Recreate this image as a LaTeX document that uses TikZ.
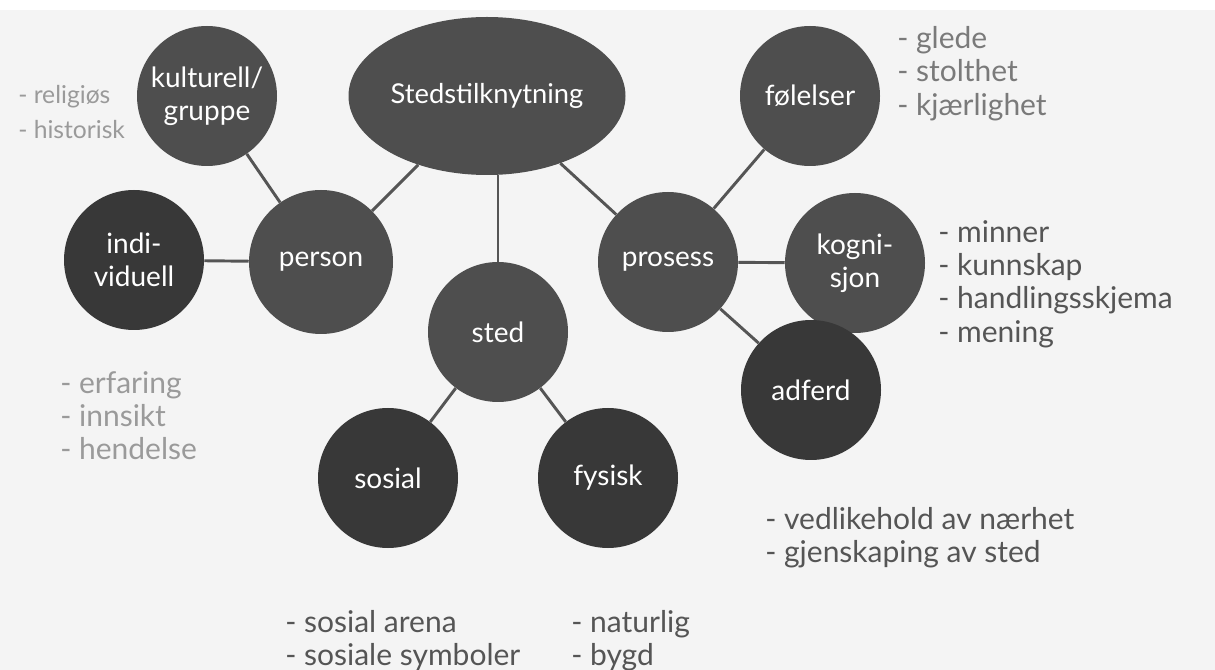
\documentclass[tikz,border=0pt]{standalone}
\usepackage{fontspec}
\setmainfont{Lato}
\usetikzlibrary{shapes.geometric}
\definecolor{bg}{HTML}{F4F4F4}
\definecolor{ball}{HTML}{4E4E4E}
\definecolor{dball}{HTML}{383838}
\definecolor{lgray}{HTML}{9A9A9A}
\definecolor{mgray}{HTML}{7A7A7A}
\definecolor{dgray}{HTML}{555555}
\tikzset{
  ball/.style={circle, fill=ball, text=white, inner sep=0pt, minimum size=140*0.75pt,
    align=center, font=\fontsize{21}{24.5}\selectfont},
  darkball/.style={ball, fill=dball},
  link/.style={draw=dgray, line width=2.2pt},
  lst/.style={anchor=north west, align=left, font=\fontsize{22.5}{25}\selectfont, inner sep=0pt},
}
\begin{document}
\begin{tikzpicture}[x=0.75pt, y=-0.75pt]
\fill[bg] (0,0) rectangle (1215,670);
\fill[white] (0,0) rectangle (1215,10);
\useasboundingbox (0,0) rectangle (1215,670);
% nodes
\node[ellipse, fill=ball, text=white, minimum width=277*0.75pt, minimum height=158*0.75pt,
  inner sep=0pt, font=\fontsize{20.5}{24}\selectfont] (root) at (487,96) {Stedstilknytning};
\node[ball] (kult) at (207,96) {kulturell/\\gruppe};
\node[darkball] (indi) at (134,260) {indi-\\viduell};
\node[ball, minimum size=144*0.75pt] (person) at (321,262) {person};
\node[ball] (sted) at (498,332) {sted};
\node[ball] (prosess) at (668,262) {prosess};
\node[ball] (fol) at (810,96) {følelser};
\node[ball] (kogn) at (855,263) {kogni-\\sjon};
\node[darkball] (adf) at (811,390) {adferd};
\node[darkball] (sosial) at (388,478) {sosial};
\node[darkball] (fysisk) at (608,478) {fysisk};
% connectors
\draw[link] (root) -- (person);
\draw[link] (root.south -| sted) -- (sted);
\draw[link] (root) -- (prosess);
\draw[link] (kult) -- (person);
\draw[link] (indi) -- (person);
\draw[link] (sted) -- (sosial);
\draw[link] (sted) -- (fysisk);
\draw[link] (prosess) -- (fol);
\draw[link] (prosess) -- (kogn);
\draw[link] (prosess) -- (adf);
% lists
\node[lst, text=lgray, font=\fontsize{18.5}{26.5}\selectfont] (l1) at (18,85) {- religiøs\\- historisk};
\node[lst, text=lgray] (l2) at (60,371) {- erfaring\\- innsikt\\- hendelse};
\node[lst, text=mgray] (l3) at (897,26) {- glede\\- stolthet\\- kjærlighet};
\node[lst, text=dgray] (l4) at (938,220) {- minner\\- kunnskap\\- handlingsskjema\\- mening};
\node[lst, text=dgray] (l5) at (765,507) {- vedlikehold av nærhet\\- gjenskaping av sted};
\node[lst, text=dgray] (l6) at (285,610) {- sosial arena\\- sosiale symboler};
\node[lst, text=dgray] (l7) at (571,610) {- naturlig\\- bygd};
\end{tikzpicture}
\end{document}
